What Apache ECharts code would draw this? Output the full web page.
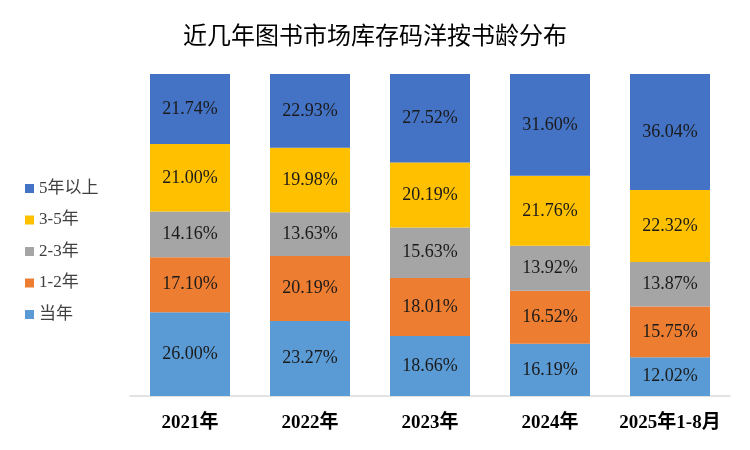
<!DOCTYPE html>
<html><head><meta charset="utf-8">
<script src="https://cdn.jsdelivr.net/npm/echarts@6/dist/echarts.min.js"></script>
<style>html,body{margin:0;padding:0;background:#fff}#c{width:750px;height:450px}</style>
</head><body><div id="c"></div>
<script>
var categories = ['2021年','2022年','2023年','2024年','2025年1-8月'];
var seriesNames = ['当年','1-2年','2-3年','3-5年','5年以上'];
var dangNian = [26.00, 23.27, 18.66, 16.19, 12.02];
var y1to2 = [17.10, 20.19, 18.01, 16.52, 15.75];
var y2to3 = [14.16, 13.63, 15.63, 13.92, 13.87];
var y3to5 = [21.00, 19.98, 20.19, 21.76, 22.32];
var y5plus = [21.74, 22.93, 27.52, 31.60, 36.04];
var colors = ['#5B9BD5','#ED7D31','#A5A5A5','#FFC000','#4472C4'];
var allData = [dangNian, y1to2, y2to3, y3to5, y5plus];
var FONT = '"Liberation Serif","DejaVu Serif","Noto Sans CJK SC",serif';
var chart = echarts.init(document.getElementById('c'));
chart.setOption({
  animation: false,
  title: {text: '近几年图书市场库存码洋按书龄分布', left: 'center', top: 18,
    textStyle: {fontFamily: '"Noto Sans CJK SC",serif', fontSize: 24, fontWeight: 'normal', color: '#000'}},
  legend: {orient: 'vertical', left: 20, top: 175, itemWidth: 9, itemHeight: 9, itemGap: 14.5, icon: 'rect',
    data: seriesNames.slice().reverse(),
    textStyle: {fontFamily: FONT, fontSize: 17, color: '#404040'}},
  grid: {left: 130, right: 20, top: 74, bottom: 54},
  xAxis: {type: 'category', data: categories,
    axisLine: {lineStyle: {color: '#D9D9D9', width: 1.5}}, axisTick: {show: false},
    axisLabel: {interval: 0, hideOverlap: false, margin: 18, fontFamily: FONT, fontSize: 19, color: '#000', fontWeight: 'bold'}},
  yAxis: {type: 'value', min: 0, max: 100, show: false, splitLine: {show: false}},
  series: allData.map(function(d, i){
    return {name: seriesNames[i], type: 'bar', stack: 't', barWidth: 80, data: d,
      itemStyle: {color: colors[i]},
      label: {show: true, position: 'inside', fontFamily: FONT, fontSize: 18, color: '#1a1a1a',
        formatter: function(p){ return p.value.toFixed(2) + '%'; }}};
  })
});
</script></body></html>
